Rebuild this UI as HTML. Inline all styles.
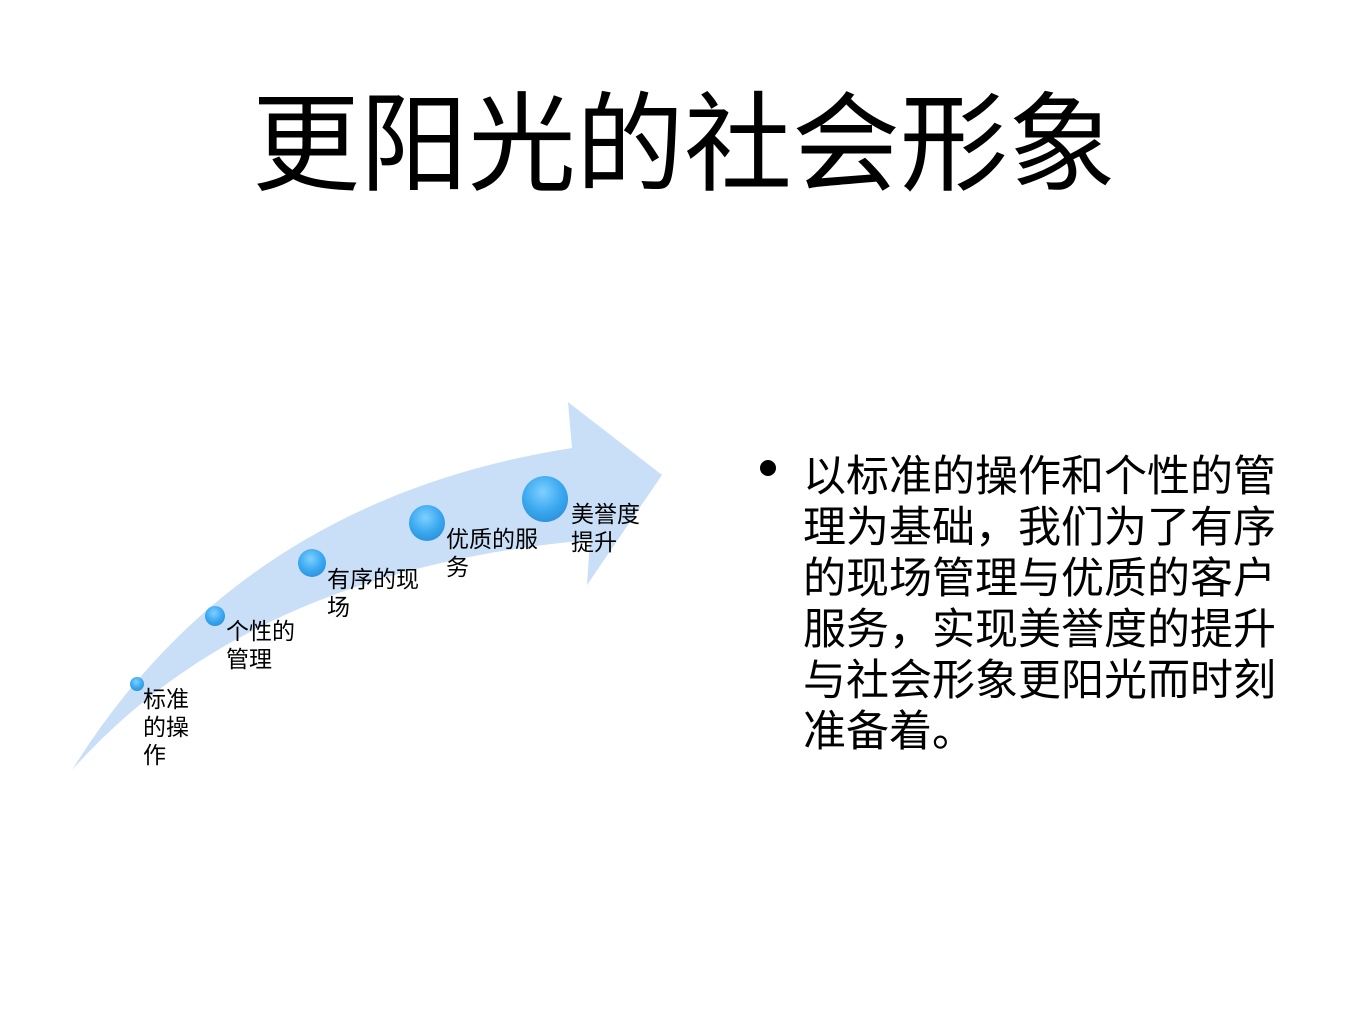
<!DOCTYPE html>
<html><head><meta charset="utf-8"><style>
body{margin:0;width:1365px;height:1024px;background:#fff;position:relative;overflow:hidden;font-family:"Liberation Sans","Noto Sans CJK SC",sans-serif;color:#000}
.t{position:absolute;white-space:nowrap}
.lb{position:absolute;font-size:23px;line-height:28px}
</style></head><body>
<div class="t" style="left:252px;top:80px;font-size:108px;line-height:130px">更阳光的社会形象</div>
<svg width="1365" height="1024" style="position:absolute;left:0;top:0">
<defs><radialGradient id="g" cx="0.45" cy="0.35" r="0.7"><stop offset="0" stop-color="#7fd0ff"/><stop offset="0.6" stop-color="#3aa8f0"/><stop offset="1" stop-color="#2b8fd8"/></radialGradient></defs>
<path d="M72,770 Q240,500 572,448 L568,402 L662,475 L587,585 L590,540 Q250,570 72,770 Z" fill="#c9dff8"/>
<circle cx="137" cy="684" r="7" fill="url(#g)"/>
<circle cx="215" cy="616" r="10" fill="url(#g)"/>
<circle cx="312" cy="563" r="14" fill="url(#g)"/>
<circle cx="427" cy="523" r="18" fill="url(#g)"/>
<circle cx="545" cy="499" r="23" fill="url(#g)"/>
<circle cx="768" cy="468" r="8" fill="#000"/>
</svg>
<div class="lb" style="left:143px;top:685px">标准<br>的操<br>作</div>
<div class="lb" style="left:226px;top:617px">个性的<br>管理</div>
<div class="lb" style="left:327px;top:565px">有序的现<br>场</div>
<div class="lb" style="left:446px;top:525px">优质的服<br>务</div>
<div class="lb" style="left:571px;top:500px">美誉度<br>提升</div>
<div class="t" style="left:803px;top:452px;font-size:43px;line-height:51px">以标准的操作和个性的管<br>理为基础，我们为了有序<br>的现场管理与优质的客户<br>服务，实现美誉度的提升<br>与社会形象更阳光而时刻<br>准备着。</div>
</body></html>
